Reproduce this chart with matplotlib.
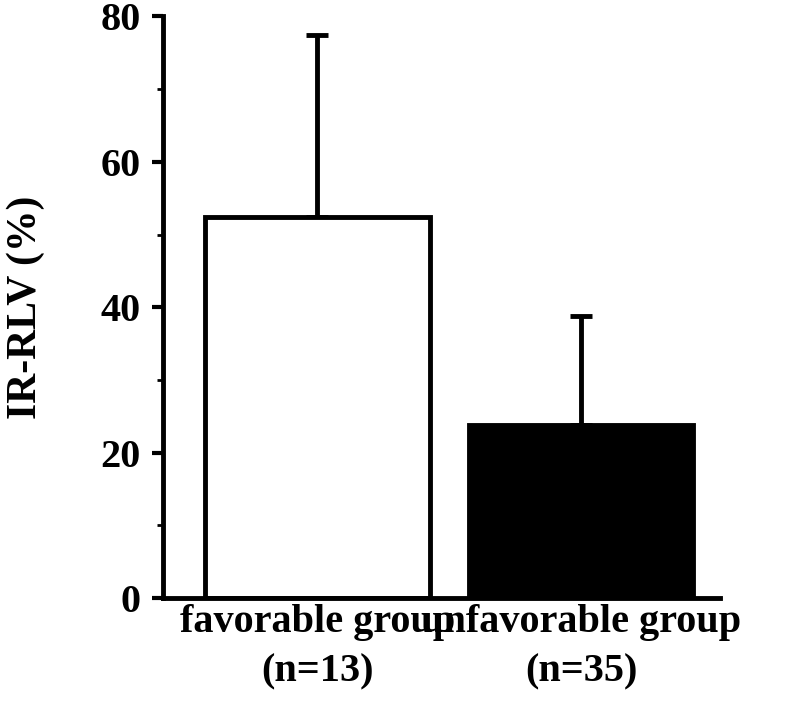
import matplotlib
matplotlib.use("Agg")
import matplotlib.pyplot as plt
from matplotlib.ticker import MultipleLocator

categories = ["favorable group\n(n=13)", "unfavorable group\n(n=35)"]
means = [52.4, 23.8]
errors = [25.0, 15.0]
colors = ["white", "black"]

plt.rcParams['font.family'] = ['Liberation Serif', 'DejaVu Serif']
plt.rcParams['font.weight'] = 'bold'

fig = plt.figure(figsize=(7.85, 7.12), dpi=100)
ax = fig.add_axes([0.2076, 0.16, 0.709, 0.817])
x = [0, 1]
ax.bar(x, means, width=0.852, color=colors, edgecolor="black", linewidth=3.5, zorder=2)
ax.errorbar(x, means, yerr=[[0, 0], errors], fmt="none", ecolor="black",
            elinewidth=3.5, capsize=8, capthick=3.5, zorder=1)
ax.set_xlim(-0.585, 1.525)
ax.set_ylim(0, 80)
ax.yaxis.set_major_locator(MultipleLocator(20))
ax.yaxis.set_minor_locator(MultipleLocator(10))
ax.set_xticks(x)
ax.set_xticklabels(categories, fontsize=29, fontweight="bold", linespacing=1.45)
ax.tick_params(axis="x", length=0, pad=4)
ax.tick_params(axis="y", which="major", direction="out", length=8, width=3, labelsize=29, pad=8)
ax.tick_params(axis="y", which="minor", direction="out", length=4, width=2)
for lab in ax.get_yticklabels():
    lab.set_fontweight("bold")
ax.set_ylabel("IR-RLV (%)", fontsize=30, fontweight="bold", labelpad=40)
for s in ["top", "right"]:
    ax.spines[s].set_visible(False)
for s in ["left", "bottom"]:
    ax.spines[s].set_linewidth(3.5)
fig.savefig("out.png", dpi=100)
